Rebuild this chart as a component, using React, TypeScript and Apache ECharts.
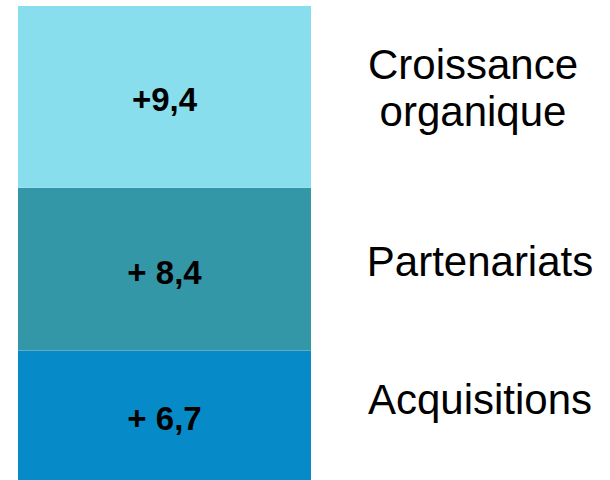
import React, { useEffect, useRef } from "react";
import * as echarts from "echarts";

// Data (bottom to top)
const categories = ["Acquisitions", "Partenariats", "Croissance\norganique"];
const values = [6.7, 8.4, 9.4];
const valueLabels = ["+ 6,7", "+ 8,4", "+9,4"];
const colors = ["#078BC8", "#3497A8", "#89DEEE"];

const FONT = '"Liberation Sans", Arial, sans-serif';

export default function App() {
  const ref = useRef<HTMLDivElement>(null);

  useEffect(() => {
    if (!ref.current) return;
    document.body.style.margin = "0";
    const chart = echarts.init(ref.current, null, { renderer: "svg" });
    const total = values.reduce((a, b) => a + b, 0);

    const series = values.map((v, i) => ({
      name: categories[i],
      type: "bar",
      stack: "total",
      barWidth: "100%",
      data: [v],
      itemStyle: { color: colors[i] },
      label: {
        show: true,
        position: "inside",
        formatter: () => valueLabels[i],
        color: "#000",
        fontFamily: FONT,
        fontWeight: "bold",
        fontSize: 33,
        offset: [0, 3],
      },
    }));

    chart.setOption({
      animation: false,
      grid: { left: 18, top: 6, width: 293, height: 474, containLabel: false },
      xAxis: { type: "category", data: ["total"], show: false },
      yAxis: { type: "value", min: 0, max: total, show: false },
      series,
    });

    // Right-hand category names, placed next to each stacked segment
    const nameOffsets = [-16, -8, -8.5];
    const rightX = [480, 480, 473];
    let cum = 0;
    const graphics = values.map((v, i) => {
      const mid = cum + v / 2;
      cum += v;
      const p = chart.convertToPixel({ gridIndex: 0 }, [0, mid]) as number[];
      return {
        type: "text",
        x: rightX[i],
        y: p[1] + nameOffsets[i],
        style: {
          text: categories[i],
          fill: "#000",
          font: `42px ${FONT}`,
          align: "center",
          verticalAlign: "middle",
          lineHeight: 47,
        },
      };
    });
    chart.setOption({ graphic: graphics });

    return () => chart.dispose();
  }, []);

  return <div ref={ref} style={{ width: 610, height: 480 }} />;
}
